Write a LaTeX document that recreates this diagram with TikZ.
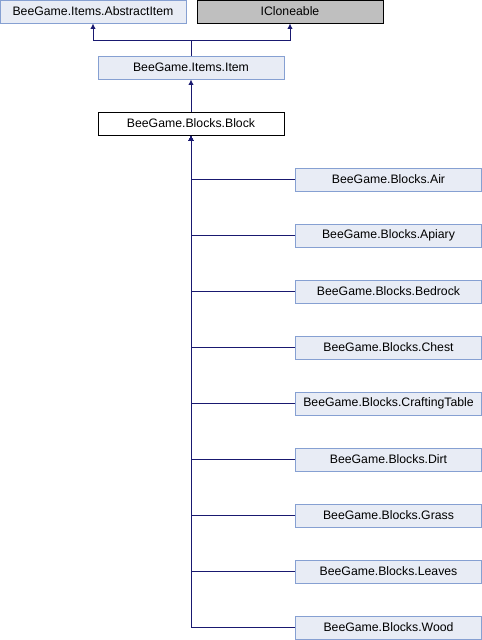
\documentclass[tikz,border=0pt]{standalone}
\usepackage{fontspec}
\setmainfont{Liberation Sans}
\usetikzlibrary{arrows.meta}
\definecolor{boxfill}{HTML}{E8ECF5}
\definecolor{boxline}{HTML}{86A0D2}
\definecolor{graybox}{HTML}{BFBFBF}
\definecolor{edgeblue}{HTML}{191970}
\tikzset{
	classbox/.style={draw=boxline, fill=boxfill, line width=0.75pt, minimum width=139.5pt, minimum height=17.25pt, inner sep=0pt, font=\fontsize{9.2pt}{11pt}\selectfont},
	thisbox/.style={classbox, draw=black, fill=white},
	extbox/.style={classbox, draw=black, fill=graybox},
	edge/.style={draw=edgeblue, line width=0.75pt, -{Latex[length=4pt,width=4pt]}}
}

\begin{document}
\begin{tikzpicture}[x=0.75pt, y=-0.75pt]
			%%%%% START %%%%%
			\useasboundingbox (0, 0) rectangle (482, 640);
			
			\node[classbox] (abstractitem) at (93, 11.5) {BeeGame.Items.AbstractItem};
			\node[extbox] (icloneable) at (290, 11.5) {ICloneable};
			\node[classbox] (item) at (191, 67.5) {BeeGame.Items.Item};
			\node[thisbox] (block) at (191, 123.5) {BeeGame.Blocks.Block};
			
			\coordinate (split) at (191, 40);
			\draw[edge] (item.north) -- (split) -| (abstractitem.south);
			\draw[edge] (item.north) -- (split) -| (icloneable.south);
			\draw[edge] (block.north) -- (item.south);
			
			\foreach \name/\label [count=\i] in {air/Air, apiary/Apiary, bedrock/Bedrock, chest/Chest, craftingtable/CraftingTable, dirt/Dirt, grass/Grass, leaves/Leaves, wood/Wood} {
				\node[classbox] (\name) at (388.5, 123.5 + 56*\i) {BeeGame.Blocks.\label};
				\draw[edge] (\name.west) -| (block.south);
			}
			
			%%%%% END %%%%%
		\end{tikzpicture}
\end{document}
